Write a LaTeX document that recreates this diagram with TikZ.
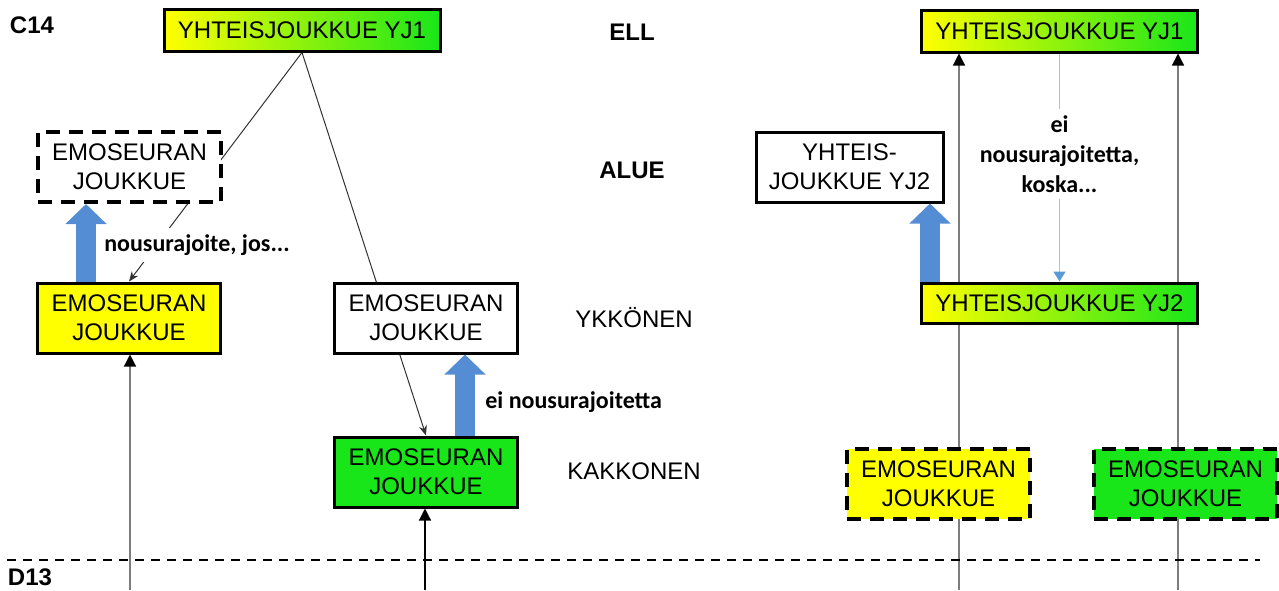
\documentclass[tikz,border=0pt]{standalone}
\usepackage{fontspec}
\setmainfont{Liberation Sans}
\newfontfamily\notefont{Carlito}
\usetikzlibrary{positioning, arrows.meta, backgrounds}
\definecolor{TeamYellow}{RGB}{255,255,0}
\definecolor{TeamGreen}{RGB}{25,230,25}
\definecolor{RiseBlue}{RGB}{84,141,212}
\definecolor{HintBlue}{RGB}{165,195,228}
\definecolor{TipBlue}{RGB}{91,155,213}
\definecolor{PathGray}{RGB}{125,125,125}
\tikzstyle{team} = [draw, line width=1.5pt, align=center, font=\fontsize{12}{14.5}\selectfont, minimum width=91.5pt, minimum height=35pt, inner sep=1pt]
\tikzstyle{joint} = [team, left color=TeamYellow, right color=TeamGreen, minimum width=138pt, minimum height=21pt]
\tikzstyle{maybe} = [team, line width=2pt, dash pattern=on 7pt off 4.5pt]
\tikzstyle{level} = [font=\fontsize{12}{14.5}\selectfont]
\tikzstyle{note} = [text=black, font=\notefont\bfseries\fontsize{12}{15}\selectfont, align=center]
\tikzstyle{rise} = [RiseBlue, line width=10pt, -{Triangle[width=20pt,length=10pt]}]
\tikzstyle{link} = [black!80, line width=0.5pt, -{Stealth[length=5pt,width=4pt]}]
\tikzstyle{feed} = [PathGray, line width=0.6pt, -{Triangle[width=6pt,length=6pt,color=black]}]
\tikzstyle{hint} = [HintBlue, line width=0.8pt, -{Triangle[width=6pt,length=5pt,color=TipBlue]}]
\tikzstyle{cut} = [line width=1pt, dash pattern=on 4.5pt off 3.5pt]

\begin{document}
\begin{tikzpicture}[x=0.5pt, y=-0.5pt]
    \useasboundingbox (0,0) rectangle (1279,590);

    % Series
    \node[level, font=\fontsize{12}{14.5}\selectfont\bfseries] (c14) at (32,25) {C14};
    \node[level, font=\fontsize{12}{14.5}\selectfont\bfseries, inner sep=0pt] (d13) at (30,577) {D13};
    \coordinate (cutW) at (7,560);
    \coordinate (cutE) at (1260,560);
    \draw[cut] (cutW) -- (cutE);

    % Levels
    \node[level, font=\fontsize{12}{14.5}\selectfont\bfseries] (ell) at (632,32) {ELL};
    \node[level, font=\fontsize{12}{14.5}\selectfont\bfseries] (alue) at (632,170) {ALUE};
    \node[level] (ykkonen) at (634,318) {YKKÖNEN};
    \node[level] (kakkonen) at (634,471) {KAKKONEN};

    % Left: parent club teams
    \node[joint] (yj1L) at (302,30) {YHTEISJOUKKUE YJ1};
    \node[maybe, fill=white] (emoA) at (129.5,167) {EMOSEURAN\\JOUKKUE};
    \node[team, fill=TeamYellow] (emoY) at (129,318) {EMOSEURAN\\JOUKKUE};
    \node[team, fill=white] (emoW) at (426,318) {EMOSEURAN\\JOUKKUE};
    \node[team, fill=TeamGreen] (emoG) at (426,472) {EMOSEURAN\\JOUKKUE};
    \coordinate (in1) at (130,590);
    \coordinate (in2) at (425,590);

    \begin{scope}[on background layer]
        \draw[link] (yj1L.south) -- (emoY.north);
        \draw[link] (yj1L.south) -- (emoG.north);
        \draw[feed] (in1) -- (in1 |- emoY.south);
        \draw[feed, black] (in2) -- (in2 |- emoG.south);
    \end{scope}

    \node[note, fill=white] (ifnote) at (197,245) {nousurajoite, jos...};
    \node[note, anchor=west, inner sep=0pt] (freenote) at (485,402) {ei nousurajoitetta};
    \draw[rise] ([xshift=25pt]emoY.north west) -- ([xshift=25pt]emoA.south west);
    \draw[rise] ([xshift=66pt]emoG.north west) -- ([xshift=66pt]emoW.south west);

    % Right: joint teams
    \node[joint] (yj1R) at (1059.5,31) {YHTEISJOUKKUE YJ1};
    \node[team, fill=white, minimum width=93.5pt] (yj2W) at (849.5,167) {YHTEIS-\\JOUKKUE YJ2};
    \node[joint, minimum height=20pt] (yj2G) at (1059.5,303) {YHTEISJOUKKUE YJ2};
    \node[maybe, fill=TeamYellow] (emoDY) at (938.5,483.5) {EMOSEURAN\\JOUKKUE};
    \node[maybe, fill=TeamGreen] (emoDG) at (1185.5,483.5) {EMOSEURAN\\JOUKKUE};
    \coordinate (in3) at (959,590);
    \coordinate (in4) at (1178,590);

    \begin{scope}[on background layer]
        \draw[feed] (in3) -- (in3 |- yj1R.south);
        \draw[feed] (in4) -- (in4 |- yj1R.south);
        \draw[hint] (yj1R.south) -- node[note, fill=white, pos=0.44] (whynote) {ei\\nousurajoitetta,\\koska...} (yj2G.north);
    \end{scope}

    \draw[rise] ([xshift=5pt]yj2G.north west) -- ([xshift=5pt]yj2G.north west |- yj2W.south);
\end{tikzpicture}
\end{document}
